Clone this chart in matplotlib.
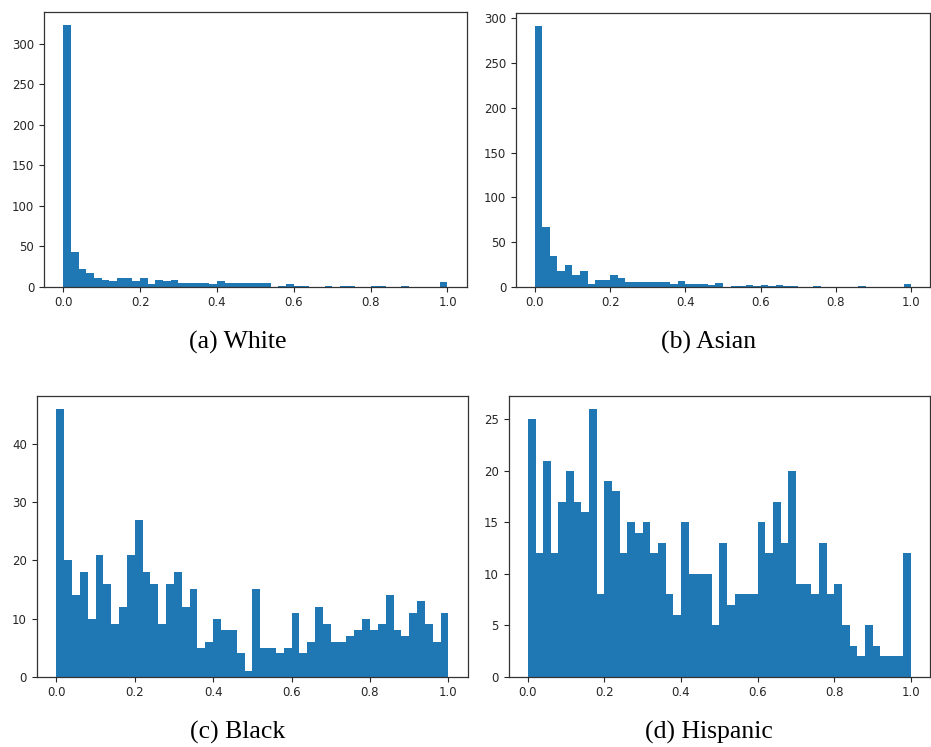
import numpy as np
import matplotlib
matplotlib.use("Agg")
import matplotlib.pyplot as plt

# 50 equal-width bins on [0, 1]
n_bins = 50
bin_edges = np.linspace(0, 1, n_bins + 1)
bin_centers = (bin_edges[:-1] + bin_edges[1:]) / 2

white_counts = [323, 43, 22, 17, 11, 8, 7, 11, 11, 7,
                11, 3, 8, 7, 8, 5, 5, 5, 5, 3,
                7, 5, 5, 5, 5, 5, 5, 0, 1, 3,
                1, 1, 0, 0, 1, 0, 1, 1, 0, 0,
                1, 1, 0, 0, 1, 0, 0, 0, 0, 6]

asian_counts = [292, 67, 34, 17, 24, 13, 17, 3, 8, 7,
                13, 10, 5, 5, 5, 5, 5, 5, 3, 6,
                3, 3, 3, 2, 4, 0, 1, 1, 2, 1,
                2, 1, 2, 1, 1, 0, 0, 1, 0, 0,
                0, 0, 0, 1, 0, 0, 0, 0, 0, 3]

black_counts = [46, 20, 14, 18, 10, 21, 16, 9, 12, 21,
                27, 18, 16, 9, 16, 18, 12, 15, 5, 6,
                10, 8, 8, 4, 1, 15, 5, 5, 4, 5,
                11, 4, 6, 12, 9, 6, 6, 7, 8, 10,
                8, 9, 14, 8, 7, 11, 13, 9, 6, 11]

hispanic_counts = [25, 12, 21, 12, 17, 20, 17, 16, 26, 8,
                   19, 18, 12, 15, 14, 15, 12, 13, 8, 6,
                   15, 10, 10, 10, 5, 13, 7, 8, 8, 8,
                   15, 12, 17, 13, 20, 9, 9, 8, 13, 8,
                   9, 5, 3, 2, 5, 3, 2, 2, 2, 12]

captions = ["(a) White", "(b) Asian", "(c) Black", "(d) Hispanic"]
series = [white_counts, asian_counts, black_counts, hispanic_counts]

W, H = 931, 747
fig = plt.figure(figsize=(W / 100, H / 100), dpi=100)

# axes boxes in pixels: left, top, right, bottom
boxes = [(44, 12, 466.7, 286.7),
         (516, 12.5, 930, 286.7),
         (36.7, 395.7, 468, 676.7),
         (508.7, 395.7, 930, 676.7)]
caption_pos = [(237.5, 342), (709, 342), (238, 732), (708.5, 732)]

for counts, box, cap, cpos in zip(series, boxes, captions, caption_pos):
    l, t, r, b = box
    ax = fig.add_axes([l / W, 1 - b / H, (r - l) / W, (b - t) / H])
    ax.hist(bin_centers, bins=bin_edges, weights=counts, color="#1f77b4")
    ax.set_xticks([0.0, 0.2, 0.4, 0.6, 0.8, 1.0])
    ax.tick_params(labelsize=8.5, colors="#262626", length=3.5)
    for s in ax.spines.values():
        s.set_color("#333333")
        s.set_linewidth(0.9)
    fig.text(cpos[0] / W, 1 - cpos[1] / H, cap, ha="center", va="center",
             fontsize=18.5, family="Liberation Serif", color="black")

fig.savefig("out.png", dpi=100)
